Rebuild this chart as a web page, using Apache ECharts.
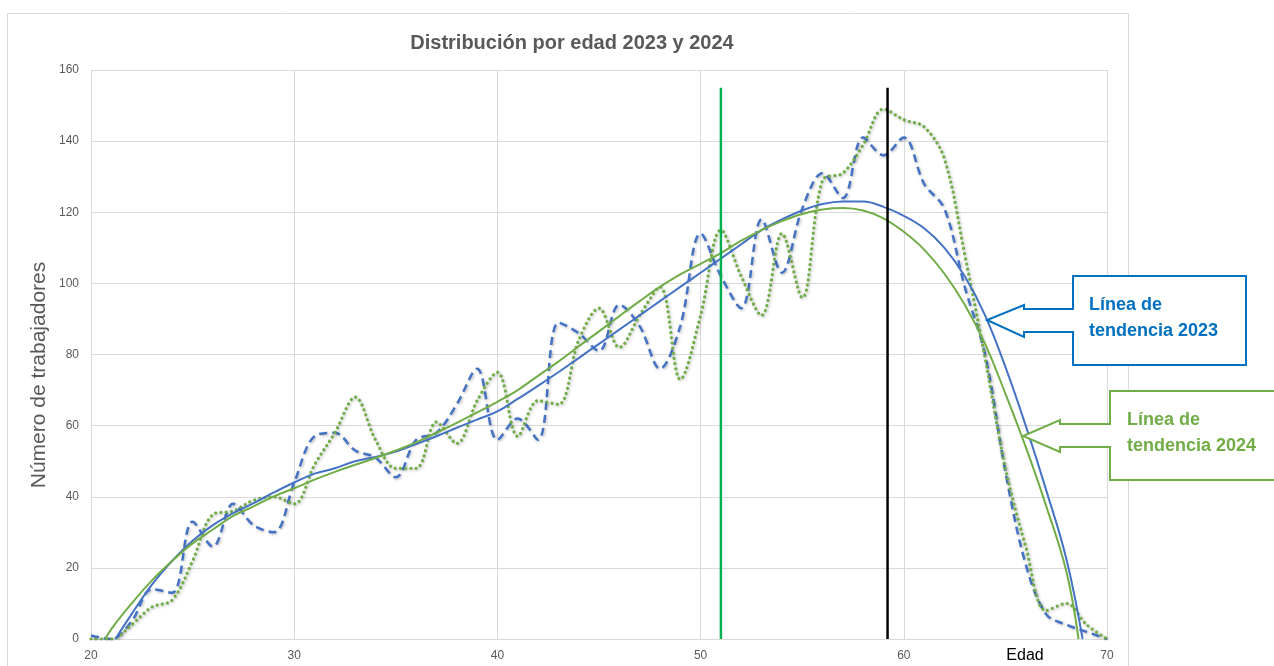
<!DOCTYPE html>
<html>
<head>
<meta charset="utf-8">
<script src="https://cdn.jsdelivr.net/npm/echarts@6/dist/echarts.min.js"></script>
<style>
html,body{margin:0;padding:0;background:#fff;}
#chart{width:1274px;height:666px;}
</style>
</head>
<body>
<div id="chart"></div>
<script>
// ---- data ----
const ages = [20,21,22,23,24,25,26,27,28,29,30,31,32,33,34,35,36,37,38,39,40,41,42,43,44,45,46,47,48,49,50,51,52,53,54,55,56,57,58,59,60,61,62,63,64,65,66,67,68,69,70];
const workers2023 = [1,0,5,14,13,33,26,38,32,30,44,57,58,53,51,45.5,56,58,66,76,56,62,56,89,86,81,94,88,76,88,114,102,93,118,103,121,131,124,141,136,141,128,121,99,80,47,21,7,4,2,0];
const workers2024 = [0,0,4,9,11,22,35,36,39,40,38,49,58,68,56,48,48,61,55,67,75,57,67,66,84,93,82,91,99,73,91,115,102,91,114,96,129,131,139,149,146,144,135,108,79,48,26,8,10,4,0];

const trend2023Ages = [21.2,22,23,24,25,26,27,28,29,30,31,32,33,34,35,36,37,38,39,40,41,42,43,44,45,46,47,48,49,50,51,52,53,54,55,56,57,58,59,60,61,62,63,64,65,66,67,68,68.8];
const trend2023 = [0,7,15.3,22,27.6,32,35.4,38.2,41.2,44,46.5,48,50,51.2,52.7,54.8,57,59.4,61.7,64,67.5,71.2,75,79,83,87,91,95,99,103,107,111,115,118,120.5,122.3,123,123,121.5,119,115.5,110,102,91,76.5,60,42,22.5,0];

const trend2024Ages = [20.7,21,22,23,24,25,26,27,28,29,30,31,32,33,34,35,36,37,38,39,40,41,42,43,44,45,46,47,48,49,50,51,52,53,54,55,56,57,58,59,60,61,62,63,64,65,66,67,68,68.6];
const trend2024 = [0,2.8,10,16.5,22,26.9,30.8,34.6,37.3,40.1,42.4,44.8,47,49,50.9,53,55.3,58,60.8,63.7,66.7,70,74,78,82.3,86.5,90.8,95,99,102.5,105.5,108.5,112,115,117.5,119.5,120.8,121.2,120.5,118.3,114.5,109.5,102.7,94,83,69,54,37.5,19,0];

const markerGreenAge = 51.0;
const markerBlackAge = 59.2;
const markerTop = 155;

const xTicks = [20,30,40,50,60,70];
const yTicks = [0,20,40,60,80,100,120,140,160];

const title = 'Distribución por edad 2023 y 2024';
const yName = 'Número de trabajadores';
const xName = 'Edad';
const callout2023 = ['Línea de', 'tendencia 2023'];
const callout2024 = ['Línea de', 'tendencia 2024'];

// ---- build ----
const pairs = (xs, ys) => xs.map((x, i) => [x, ys[i]]);
const FONT = '"Liberation Sans", Arial, sans-serif';
const BLUE = '#4472C4', GREEN = '#70AD47';

const chart = echarts.init(document.getElementById('chart'), null, {renderer: 'canvas'});

const option = {
  animation: false,
  backgroundColor: '#ffffff',
  title: {
    text: title,
    left: 567, top: 28, textAlign: 'center',
    textStyle: {fontFamily: FONT, fontSize: 20, fontWeight: 'bold', color: '#595959'}
  },
  grid: {left: 91, right: 167, top: 70, bottom: 27, containLabel: false},
  xAxis: {
    type: 'value', min: xTicks[0], max: xTicks[xTicks.length - 1], interval: 10,
    axisLine: {show: true, lineStyle: {color: '#d9d9d9', width: 1}},
    axisTick: {show: false},
    axisLabel: {fontFamily: FONT, fontSize: 12, color: '#595959', margin: 11},
    splitLine: {show: true, lineStyle: {color: '#d9d9d9', width: 1}}
  },
  yAxis: {
    type: 'value', min: yTicks[0], max: yTicks[yTicks.length - 1], interval: 20,
    axisLine: {show: true, lineStyle: {color: '#d9d9d9', width: 1}},
    axisTick: {show: false},
    axisLabel: {fontFamily: FONT, fontSize: 12, color: '#595959', margin: 12},
    splitLine: {show: true, lineStyle: {color: '#d9d9d9', width: 1}}
  },
  series: [
    {
      name: '2023', type: 'line', data: pairs(ages, workers2023),
      smooth: 0.35, symbol: 'none', clip: true,
      lineStyle: {color: BLUE, width: 2.5, type: [8, 5],
        shadowBlur: 3, shadowColor: 'rgba(0,0,0,0.3)', shadowOffsetX: 1, shadowOffsetY: 1}
    },
    {
      name: '2024', type: 'line', data: pairs(ages, workers2024),
      smooth: 0.35, symbol: 'none', clip: true,
      lineStyle: {color: GREEN, width: 3.2, type: [0.01, 5.2], cap: 'round',
        shadowBlur: 3, shadowColor: 'rgba(0,0,0,0.3)', shadowOffsetX: 1, shadowOffsetY: 1}
    },
    {
      name: 'Tendencia 2023', type: 'line', data: pairs(trend2023Ages, trend2023),
      smooth: 0.4, symbol: 'none', clip: true,
      lineStyle: {color: BLUE, width: 2}
    },
    {
      name: 'Tendencia 2024', type: 'line', data: pairs(trend2024Ages, trend2024),
      smooth: 0.4, symbol: 'none', clip: true,
      lineStyle: {color: GREEN, width: 2}
    },
    {
      name: 'marker51', type: 'line', data: [[markerGreenAge, 0], [markerGreenAge, markerTop]],
      symbol: 'none', lineStyle: {color: '#00B050', width: 2.5}
    },
    {
      name: 'marker59', type: 'line', data: [[markerBlackAge, 0], [markerBlackAge, markerTop]],
      symbol: 'none', lineStyle: {color: '#000000', width: 2.5}
    }
  ],
  graphic: [
    // outer chart border
    {type: 'rect', z: -10, shape: {x: 7.5, y: 13.5, width: 1121, height: 700},
      style: {fill: null, stroke: '#d9d9d9', lineWidth: 1}},
    // y axis name
    {type: 'text', x: 39, y: 375, rotation: Math.PI / 2,
      style: {text: yName, fill: '#595959', font: '21px ' + FONT, textAlign: 'center', textVerticalAlign: 'middle'}},
    // x axis name
    {type: 'text', x: 1025, y: 656,
      style: {text: xName, fill: '#000000', font: '16px ' + FONT, textAlign: 'center', textVerticalAlign: 'middle'}},
    // callout 2023
    {type: 'polygon', z: 100,
      shape: {points: [[1073,276],[1246,276],[1246,365],[1073,365],[1073,332],[1024,332],[1024,337],[987,320],[1024,305],[1024,309],[1073,309]]},
      style: {fill: '#ffffff', stroke: '#0070C0', lineWidth: 2}},
    {type: 'text', z: 101, x: 1089, y: 305,
      style: {text: callout2023[0], fill: '#0070C0', font: 'bold 18px ' + FONT, textAlign: 'left', textVerticalAlign: 'middle'}},
    {type: 'text', z: 101, x: 1089, y: 331,
      style: {text: callout2023[1], fill: '#0070C0', font: 'bold 18px ' + FONT, textAlign: 'left', textVerticalAlign: 'middle'}},
    // callout 2024
    {type: 'polygon', z: 100,
      shape: {points: [[1110,391],[1290,391],[1290,480],[1110,480],[1110,447],[1060,447],[1060,452],[1023,436],[1060,420],[1060,424],[1110,424]]},
      style: {fill: '#ffffff', stroke: GREEN, lineWidth: 2}},
    {type: 'text', z: 101, x: 1127, y: 420,
      style: {text: callout2024[0], fill: GREEN, font: 'bold 18px ' + FONT, textAlign: 'left', textVerticalAlign: 'middle'}},
    {type: 'text', z: 101, x: 1127, y: 446,
      style: {text: callout2024[1], fill: GREEN, font: 'bold 18px ' + FONT, textAlign: 'left', textVerticalAlign: 'middle'}}
  ]
};
chart.setOption(option);
</script>
</body>
</html>
